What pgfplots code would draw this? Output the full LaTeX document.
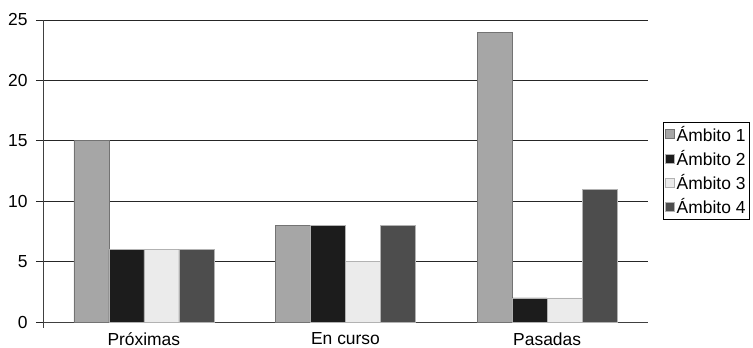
\documentclass[border=0pt]{standalone}
\usepackage{fontspec}
\setmainfont{Liberation Sans}
\usepackage{pgfplots}
\pgfplotsset{compat=1.18}
\definecolor{cA}{HTML}{A6A6A6}
\definecolor{cB}{HTML}{1C1C1C}
\definecolor{cC}{HTML}{EBEBEB}
\definecolor{cD}{HTML}{4D4D4D}
\begin{document}
\begin{tikzpicture}
\path[use as bounding box] (-43bp,-26bp) rectangle (710bp,322bp);
\begin{axis}[
  at={(0,0)}, anchor=south west,
  scale only axis,
  width=605bp, height=302bp,
  ymin=0, ymax=25,
  ytick={0,5,...,25},
  xmin=-0.5, xmax=2.5,
  xtick={0,1,2},
  xticklabels={Próximas,En curso,Pasadas},
  axis lines=left,
  axis line style={-, draw=black!75, line width=0.8pt},
  ymajorgrids,
  grid style={black!85, line width=0.8pt},
  tick align=outside,
  major tick length=7bp,
  major x tick style={draw=none},
  ytick style={black!85, line width=0.8pt},
  /pgf/number format/assume math mode=true,
  tick label style={font=\fontsize{17.5}{19}\selectfont},
  yticklabel style={xshift=-5bp},
  xticklabel style={yshift=0bp},
  ybar=0pt,
  bar width=35bp,
  legend style={at={(rel axis cs:1.0248,0.662)}, anchor=north west,
    draw=black, line width=0.6pt, font=\fontsize{17.5}{19}\selectfont,
    inner sep=2bp, row sep=3.5bp, cells={anchor=west}},
  legend image code/.code={\draw[#1, line width=0.4pt] (0bp,-4bp) rectangle (9bp,5bp);},
  clip=false,
]
\addplot[fill=cA, draw=gray!90!black, line width=0.6pt] coordinates {(0,15) (1,8) (2,24)};
\addplot[fill=cB, draw=gray!60, line width=0.6pt] coordinates {(0,6) (1,8) (2,2)};
\addplot[fill=cC, draw=gray!60, line width=0.6pt] coordinates {(0,6) (1,5) (2,2)};
\addplot[fill=cD, draw=gray!60, line width=0.6pt] coordinates {(0,6) (1,8) (2,11)};
\legend{Ámbito 1,Ámbito 2,Ámbito 3,Ámbito 4}
\end{axis}
\draw[black!75, line width=0.8pt] (0,0) -- (0,-6bp);
\end{tikzpicture}
\end{document}
